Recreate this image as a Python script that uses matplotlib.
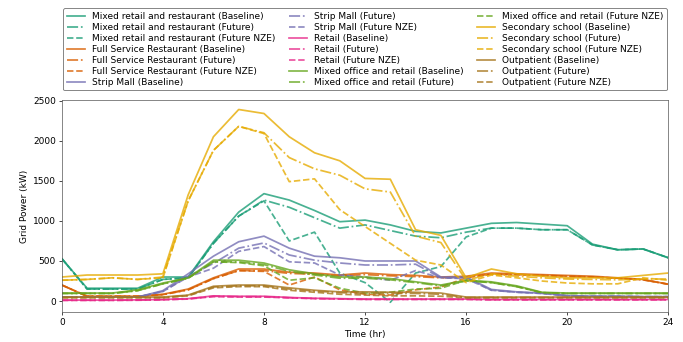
import matplotlib
matplotlib.use("Agg")
import matplotlib.pyplot as plt

hours = list(range(25))

buildings = ["Mixed retail and restaurant", "Full Service Restaurant", "Strip Mall",
             "Retail", "Mixed office and retail", "Secondary school", "Outpatient"]
scenarios = ["Baseline", "Future", "Future NZE"]

# grid power (kW) per hour
mrr_base = [530, 160, 160, 160, 300, 300, 740, 1110, 1340, 1260, 1130, 990, 1010, 950, 870, 850, 910, 970, 980, 960, 940, 710, 640, 650, 540]
mrr_fut = [530, 150, 150, 150, 270, 290, 720, 1060, 1260, 1170, 1040, 910, 950, 880, 810, 790, 860, 910, 910, 890, 890, 700, 640, 650, 540]
mrr_nze = [530, 150, 150, 150, 270, 290, 720, 1060, 1250, 750, 860, 350, 230, -15, 350, 430, 800, 910, 910, 890, 890, 700, 640, 650, 540]

fsr_base = [200, 60, 60, 60, 85, 150, 290, 400, 400, 360, 350, 325, 350, 330, 320, 300, 310, 350, 340, 330, 320, 310, 290, 270, 210]
fsr_fut = [200, 60, 60, 60, 80, 140, 280, 380, 380, 345, 335, 315, 330, 315, 305, 290, 300, 335, 330, 320, 310, 300, 285, 265, 210]
fsr_nze = [200, 60, 60, 60, 80, 140, 280, 380, 370, 200, 300, 140, 85, 75, 140, 175, 290, 335, 330, 320, 310, 300, 285, 265, 210]

sm_base = [50, 50, 50, 50, 130, 340, 560, 740, 810, 660, 560, 540, 500, 500, 500, 300, 300, 145, 115, 100, 70, 60, 60, 55, 55]
sm_fut = [50, 50, 50, 50, 120, 310, 470, 660, 725, 575, 510, 475, 450, 450, 460, 290, 290, 135, 110, 95, 65, 60, 60, 55, 55]
sm_nze = [50, 50, 50, 50, 120, 300, 410, 620, 680, 490, 475, 325, 300, 260, 380, 290, 280, 135, 110, 95, 65, 60, 60, 55, 55]

ret_base = [12, 12, 12, 15, 20, 30, 65, 60, 60, 45, 35, 30, 25, 25, 25, 25, 25, 20, 20, 20, 20, 20, 20, 20, 20]
ret_fut = [10, 10, 10, 12, 18, 28, 60, 55, 55, 42, 32, 28, 22, 22, 22, 22, 22, 18, 18, 18, 18, 18, 18, 18, 18]
ret_nze = [8, 8, 8, 10, 15, 25, 55, 50, 50, 40, 30, 25, 20, 20, 20, 20, 20, 15, 15, 15, 15, 15, 15, 15, 15]

mor_base = [100, 100, 100, 140, 225, 290, 510, 510, 475, 390, 340, 300, 300, 280, 240, 200, 260, 240, 190, 110, 100, 100, 100, 100, 100]
mor_fut = [95, 95, 95, 130, 215, 285, 490, 490, 455, 370, 325, 285, 285, 265, 230, 190, 250, 230, 180, 105, 95, 95, 95, 95, 95]
mor_nze = [95, 95, 95, 130, 215, 285, 490, 480, 440, 260, 290, 160, 100, 110, 150, 160, 260, 230, 180, 105, 95, 95, 95, 95, 95]

ss_base = [300, 325, 325, 325, 340, 1325, 2050, 2390, 2340, 2050, 1850, 1750, 1530, 1520, 890, 820, 290, 400, 340, 310, 290, 290, 290, 320, 350]
ss_fut = [260, 270, 290, 270, 300, 1250, 1880, 2180, 2100, 1790, 1650, 1570, 1400, 1360, 810, 730, 260, 340, 310, 290, 275, 270, 265, 275, 275]
ss_nze = [260, 270, 290, 270, 290, 1250, 1880, 2180, 2090, 1490, 1525, 1140, 930, 720, 510, 450, 230, 325, 290, 250, 225, 215, 215, 290, 260]

op_base = [50, 50, 50, 50, 50, 75, 185, 200, 200, 165, 135, 115, 115, 110, 110, 100, 50, 50, 50, 50, 50, 50, 50, 50, 50]
op_fut = [45, 45, 45, 45, 45, 70, 175, 190, 190, 150, 125, 105, 95, 95, 95, 85, 45, 45, 45, 45, 45, 45, 45, 45, 45]
op_nze = [40, 40, 40, 40, 40, 65, 165, 180, 180, 135, 110, 85, 75, 65, 65, 60, 40, 40, 40, 40, 40, 40, 40, 40, 40]

series = [
    [mrr_base, mrr_fut, mrr_nze],
    [fsr_base, fsr_fut, fsr_nze],
    [sm_base, sm_fut, sm_nze],
    [ret_base, ret_fut, ret_nze],
    [mor_base, mor_fut, mor_nze],
    [ss_base, ss_fut, ss_nze],
    [op_base, op_fut, op_nze],
]

colors = plt.get_cmap("Dark2").colors
styles = ["-", "-.", "--"]

plt.rcParams["font.size"] = 10.3

fig = plt.figure(figsize=(683 / 62.5, 342 / 62.5), dpi=62.5)
ax = fig.add_axes([0.0905, 0.088, 0.888, 0.620])

for b, name in enumerate(buildings):
    for s, scen in enumerate(scenarios):
        ax.plot(hours, series[b][s], color=colors[b], ls=styles[s], lw=2, alpha=0.8,
                label=f"{name} ({scen})")

ax.set_xlim(0, 24)
ax.set_xticks(range(0, 25, 4))
ax.set_xlabel("Time (hr)")
ax.set_ylabel("Grid Power (kW)")
for sp in ax.spines.values():
    sp.set_color("#555555")

ax.legend(ncol=3, loc="lower center", bbox_to_anchor=(0.5, 1.045),
          labelspacing=0.22, columnspacing=1.5, borderaxespad=0,
          edgecolor="#555555")

fig.savefig("out.png", dpi=62.5)
